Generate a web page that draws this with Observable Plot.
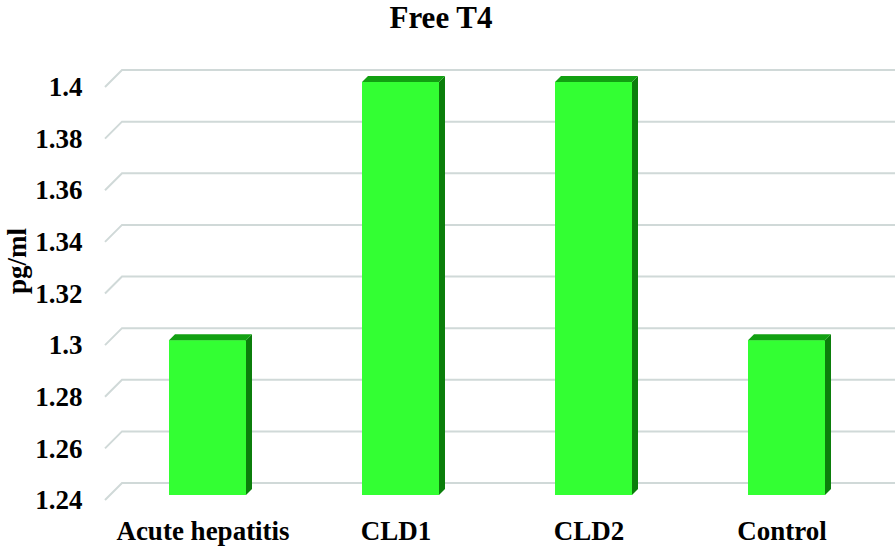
<!DOCTYPE html>
<html>
<head>
<meta charset="utf-8">
<script src="https://cdn.jsdelivr.net/npm/d3@7"></script>
<script src="https://cdn.jsdelivr.net/npm/@observablehq/plot@0.6"></script>
<style>
  html, body { margin: 0; padding: 0; background: #fff; }
  #title { width: 895px; height: 40px; margin: 0; padding: 0 13px 0 0; box-sizing: border-box; text-align: center; font-family: "Liberation Serif", "DejaVu Serif", serif; font-weight: bold; font-size: 31px; line-height: 35px; color: #000; overflow: visible; }
  svg { display: block; }
</style>
</head>
<body>
<div id="title">Free T4</div>
<div id="chart"></div>
<script>
const categories = ["Acute hepatitis", "CLD1", "CLD2", "Control"];
const values = [1.3, 1.4, 1.4, 1.3];
const yTicks = [1.24, 1.26, 1.28, 1.3, 1.32, 1.34, 1.36, 1.38, 1.4];
const yLabel = "pg/ml";

const data = categories.map((c, i) => ({category: c, value: values[i]}));
const DEPTH = 17;   // perspective offset of the back wall
const BAR_DEPTH = 6;

const serif = "Liberation Serif, DejaVu Serif, serif";

const plot = Plot.plot({
  width: 895,
  height: 508,
  marginLeft: 105,
  marginRight: 16,
  marginTop: 47,
  marginBottom: 48,
  style: {fontFamily: serif, fontWeight: "bold", color: "#000", background: "#fff"},
  x: {domain: categories, paddingInner: 0.6, paddingOuter: 0.3, label: null},
  y: {domain: [yTicks[0], yTicks[yTicks.length - 1]], label: null},
  marks: [
    // 3D gridlines: slanted front segment + back wall line
    Plot.ruleY(yTicks, {
      stroke: "#d0d9d8",
      strokeWidth: 2,
      render(index, scales, vals, dims) {
        const g = d3.create("svg:g");
        for (const i of index) {
          const y = vals.y[i];
          const x0 = dims.marginLeft;
          g.append("path")
            .attr("d", `M${x0},${y}L${x0 + DEPTH},${y - DEPTH}L${dims.width},${y - DEPTH}`)
            .attr("fill", "none")
            .attr("stroke", "#d0d9d8")
            .attr("stroke-width", 2);
        }
        return g.node();
      }
    }),
    // 3D bars
    Plot.barY(data, {
      x: "category",
      y1: yTicks[0],
      y2: "value",
      fill: "#33ff33",
      dx: 5,
      dy: -5,
      render(index, scales, vals, dims, context, next) {
        const g = next(index, scales, vals, dims, context);
        const rects = Array.from(g.querySelectorAll("rect"));
        const sel = d3.select(g);
        const d = BAR_DEPTH;
        for (const r of rects) {
          const x = +r.getAttribute("x"), y = +r.getAttribute("y");
          const w = +r.getAttribute("width"), h = +r.getAttribute("height");
          sel.append("path")
            .attr("d", `M${x + w},${y}L${x + w + d},${y - d}L${x + w + d},${y + h - d}L${x + w},${y + h}Z`)
            .attr("fill", "#0b7e0b");
          sel.append("path")
            .attr("d", `M${x},${y}L${x + d},${y - d}L${x + w + d},${y - d}L${x + w},${y}Z`)
            .attr("fill", "#12a012");
        }
        return g;
      }
    }),
    Plot.axisY({
      ticks: yTicks,
      tickSize: 0,
      tickPadding: 23,
      fontSize: 27,
      fontWeight: "bold",
      fontFamily: serif,
      tickFormat: d => String(+d.toFixed(2)),
      label: null
    }),
    Plot.axisX({
      tickSize: 0,
      tickPadding: 20,
      fontSize: 27,
      fontWeight: "bold",
      fontFamily: serif,
      label: null
    }),
    Plot.text([yLabel], {
      text: d => d,
      frameAnchor: "left",
      rotate: -90,
      dx: -88,
      fontSize: 27,
      fontWeight: "bold",
      fontFamily: serif,
      fill: "#000"
    })
  ]
});
document.getElementById("chart").appendChild(plot);
</script>
</body>
</html>
